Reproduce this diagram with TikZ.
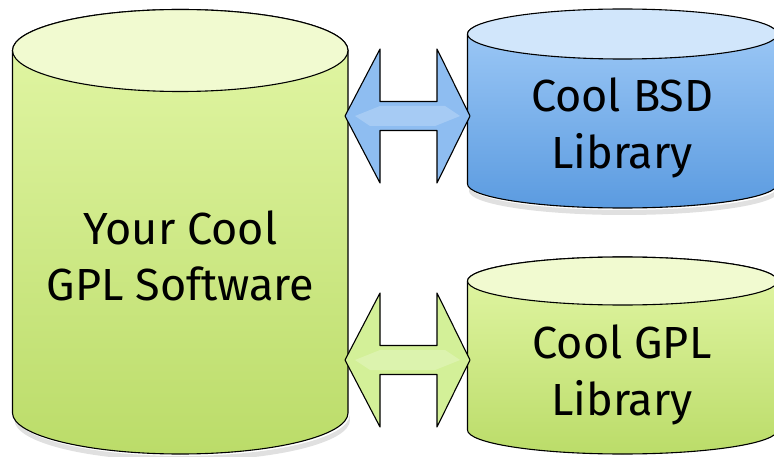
\documentclass[tikz,border=0pt]{standalone}
\usepackage{fontspec}
\setmainfont{Fira Sans}

\definecolor{gplTop}{HTML}{F1FAD0}
\definecolor{gplHi}{HTML}{E3F7A7}
\definecolor{gplLo}{HTML}{BBDC69}
\definecolor{bsdTop}{HTML}{D1E6FB}
\definecolor{bsdHi}{HTML}{A2CCF8}
\definecolor{bsdLo}{HTML}{5B9BE0}
\definecolor{bsdArrow}{HTML}{8EBDF1}
\definecolor{gplArrow}{HTML}{D3F098}

\tikzset{
    rim/.style={draw=black, line width=1.1pt, line join=round},
    libtext/.style={font=\fontsize{45}{56.5}\selectfont, align=center, inner sep=0pt},
    shade/.style={black, opacity=0.12},
    gleam/.style={white, opacity=0.22}
}

\begin{document}
\begin{tikzpicture}[x=1pt, y=1pt]
        \useasboundingbox (0,0) rectangle (774,456);

        % big cylinder
        \fill[shade] (14,41) arc[start angle=180, end angle=360, x radius=167.75, y radius=41] -- (350,36) arc[start angle=0, end angle=-180, x radius=167.75, y radius=41] -- cycle;
        \draw[rim, top color=gplHi, bottom color=gplLo] (12.5,405.5) -- (12.5,43) arc[start angle=180, end angle=360, x radius=167.75, y radius=41] -- (348,405.5) arc[start angle=0, end angle=180, x radius=167.75, y radius=41] -- cycle;
        \draw[rim, fill=gplTop] (180.25,405.5) ellipse[x radius=167.75, y radius=41];
        \node[libtext] (sw) at (180.5,200) {Your Cool\\GPL Software};

        % bsd cylinder
        \fill[shade] (469,270) arc[start angle=180, end angle=360, x radius=155, y radius=24] -- (779,265) arc[start angle=0, end angle=-180, x radius=155, y radius=24] -- cycle;
        \draw[rim, top color=bsdHi, bottom color=bsdLo] (467.5,422) -- (467.5,272) arc[start angle=180, end angle=360, x radius=155, y radius=24] -- (777.5,422) arc[start angle=0, end angle=180, x radius=155, y radius=24] -- cycle;
        \draw[rim, fill=bsdTop] (622.5,422) ellipse[x radius=155, y radius=25];
        \node[libtext] (bsd) at (622,328) {Cool BSD\\Library};

        % gpl cylinder
        \draw[rim, top color=gplHi, bottom color=gplLo] (467.5,175) -- (467.5,26) arc[start angle=180, end angle=360, x radius=155, y radius=24] -- (777.5,175) arc[start angle=0, end angle=180, x radius=155, y radius=24] -- cycle;
        \draw[rim, fill=gplTop] (622.5,175) ellipse[x radius=155, y radius=24];
        \node[libtext] (gpl) at (622,81) {Cool GPL\\Library};

        % arrow ends
        \coordinate (swA) at (345,340);
        \coordinate (bsdA) at (470,340);
        \coordinate (swB) at (345,96);
        \coordinate (gplB) at (470,96);

        % double arrows
        \draw[rim, fill=bsdArrow] (swA) -- ++(35,67) -- ++(0,-52.5) -- ++(57,0) -- ++(0,52.5) -- (bsdA) -- ++(-33,-67) -- ++(0,52.5) -- ++(-57,0) -- ++(0,-52.5) -- cycle;
        \fill[gleam] ([xshift=10pt]swA) -- ++(25,10) -- ++(65,0) -- ([xshift=-10pt]bsdA) -- ++(-25,-10) -- ++(-65,0) -- cycle;

        \draw[rim, fill=gplArrow] (swB) -- ++(35,67) -- ++(0,-52.5) -- ++(57,0) -- ++(0,52.5) -- (gplB) -- ++(-33,-67) -- ++(0,52.5) -- ++(-57,0) -- ++(0,-52.5) -- cycle;
        \fill[gleam] ([xshift=10pt]swB) -- ++(25,10) -- ++(65,0) -- ([xshift=-10pt]gplB) -- ++(-25,-10) -- ++(-65,0) -- cycle;
    \end{tikzpicture}
\end{document}
